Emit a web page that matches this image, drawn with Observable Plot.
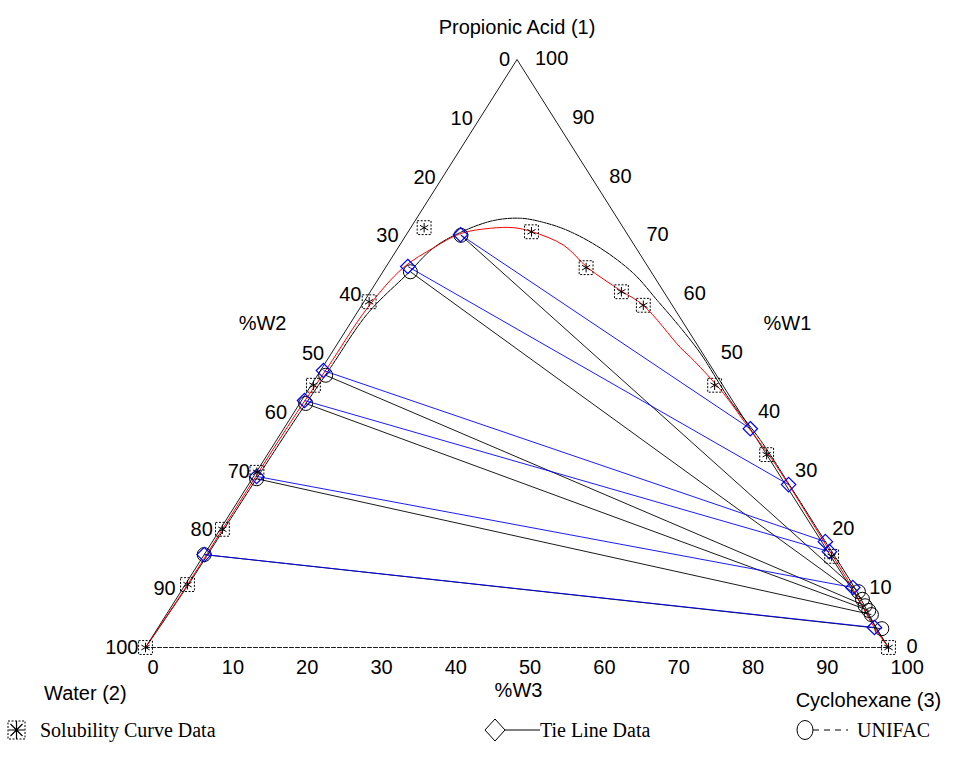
<!DOCTYPE html>
<html>
<head>
<meta charset="utf-8">
<script src="https://cdn.jsdelivr.net/npm/d3@7"></script>
<script src="https://cdn.jsdelivr.net/npm/@observablehq/plot@0.6"></script>
<style>
  body { margin: 0; background: #fff; }
  #chart { width: 972px; }
  #legend { display: block; }
</style>
</head>
<body>
<div id="chart"></div>
<script>
// ---- Data (mass %, W1 = Propionic acid, W3 = Cyclohexane; W2 = 100 - W1 - W3) ----
// Solubility curve data points
const solW1 = [0, 10.7, 20.1, 29.8, 44.6, 58.8, 71.4, 70.7, 64.6, 60.5, 58.2, 44.6, 32.8, 15.5, 0];
const solW3 = [0, 0.3, 0.3, 0.1, 0.3, 0.7, 1.8, 16.6, 27.0, 33.8, 37.9, 54.3, 67.2, 84.6, 100];

// Experimental binodal curve (red)
const expCurveW1 = [0, 10, 20, 30, 40, 47.6, 57.8, 64.6, 68.0, 70.4, 71.3, 71.4, 70.7, 68.4, 64.6, 60.7, 58.2, 51.0, 48.8, 43.2, 36.9, 32.3, 27.2, 18.0, 10.2, 3.4, 0];
const expCurveW3 = [0, 0.3, 0.3, 0.3, 0.4, 0.7, 1.0, 2.4, 4.8, 7.2, 10.8, 13.8, 16.7, 22.1, 27.2, 33.6, 37.9, 46.5, 49.4, 56.2, 63.0, 68.0, 73.2, 82.3, 90.0, 96.4, 100];

// UNIFAC binodal curve (black dashed)
const uniCurveW1 = [0, 10, 20, 30, 40, 47.6, 56.8, 63.6, 68.0, 70.6, 72.6, 73.0, 72.3, 70.9, 67.9, 63.6, 59.0, 54.4, 50.0, 42.0, 35.2, 27.5, 20, 10, 3, 0];
const uniCurveW3 = [0, 0.4, 0.5, 0.6, 0.8, 1.1, 1.5, 3.5, 4.8, 7.1, 10.5, 14.0, 17.4, 21.4, 27.3, 33.9, 39.4, 44.8, 49.7, 57.7, 65.2, 73.0, 80.5, 90.5, 97, 100];

// Experimental tie lines (blue diamonds)
const tieW1L = [70.2, 64.8, 47.1, 42.0, 29.1, 15.8];
const tieW3L = [7.3, 2.9, 0.4, 0.4, 0.4, 0.0];
const tieW1R = [37.2, 27.7, 18.0, 16.3, 10.2, 3.4];
const tieW3R = [62.8, 72.7, 82.5, 83.9, 90.1, 96.4];

// UNIFAC tie lines (black circles)
const uniW1L = [70.1, 63.9, 46.3, 41.5, 28.7, 15.8];
const uniW3L = [7.4, 3.7, 1.1, 0.8, 0.6, 0.0];
const uniW1R = [9.5, 8.2, 7.1, 6.3, 5.6, 3.2];
const uniW3R = [91.2, 92.4, 93.3, 94.2, 94.9, 97.5];

// Tick values (%)
const tickValues = [0, 10, 20, 30, 40, 50, 60, 70, 80, 90, 100];

// Triangle vertices (W1, W3): Water, Propionic acid, Cyclohexane
const vertW1 = [0, 100, 0];
const vertW3 = [0, 0, 100];

// Axis / corner titles (chart units)
const titleText = ["%W2", "%W1", "%W3", "Water (2)", "Cyclohexane (3)"];
const titleX = [15.75, 86.4, 50.2, -8.1, 97.3];
const titleY = [55.1, 55.1, -7.3, -7.8, -9.0];

// ---- ternary -> cartesian ----
const tx = (w1, w3) => w3 + w1 / 2;

const pts = (a1, a3) => a1.map((w1, i) => ({x: tx(w1, a3[i]), y: w1}));
const sol = pts(solW1, solW3);
const expCurve = pts(expCurveW1, expCurveW3);
const uniCurve = pts(uniCurveW1, uniCurveW3);
const tie = tieW1L.map((w1, i) => ({x1: tx(w1, tieW3L[i]), y1: w1, x2: tx(tieW1R[i], tieW3R[i]), y2: tieW1R[i]}));
const uni = uniW1L.map((w1, i) => ({x1: tx(w1, uniW3L[i]), y1: w1, x2: tx(uniW1R[i], uniW3R[i]), y2: uniW1R[i]}));
const verts = pts(vertW1, vertW3);
const sideEdges = [verts[0], verts[1], verts[2]];
const baseEdge = [verts[0], verts[2]];
const titles = titleText.map((t, i) => ({t, x: titleX[i], y: titleY[i]}));

const tieEnds = tie.flatMap(d => [{x: d.x1, y: d.y1}, {x: d.x2, y: d.y2}]);
const uniEnds = uni.flatMap(d => [{x: d.x1, y: d.y1}, {x: d.x2, y: d.y2}]);

const FONT = "'Liberation Sans', Arial, Helvetica, sans-serif";

const chart = Plot.plot({
  width: 972,
  height: 710,
  marginLeft: 145,
  marginRight: 84,
  marginTop: 59,
  marginBottom: 63,
  x: {domain: [0, 100], axis: null},
  y: {domain: [0, 100], axis: null},
  style: {fontFamily: FONT, fontSize: "20px", color: "black", background: "white", overflow: "visible"},
  marks: [
    // triangle
    Plot.line(sideEdges, {x: "x", y: "y", stroke: "black", strokeWidth: 0.9}),
    Plot.line(baseEdge, {x: "x", y: "y", stroke: "black", strokeWidth: 0.9, strokeDasharray: "4,2"}),
    // binodal curves
    Plot.line(uniCurve, {x: "x", y: "y", stroke: "black", strokeWidth: 1, strokeDasharray: "4,1", curve: "catmull-rom"}),
    Plot.line(expCurve, {x: "x", y: "y", stroke: "red", strokeWidth: 1, curve: "catmull-rom"}),
    // tie lines
    Plot.link(uni, {x1: "x1", y1: "y1", x2: "x2", y2: "y2", stroke: "black", strokeWidth: 0.9}),
    Plot.link(tie, {x1: "x1", y1: "y1", x2: "x2", y2: "y2", stroke: "#0000ff", strokeWidth: 0.9}),
    // markers
    Plot.dot(uniEnds, {x: "x", y: "y", r: 7, stroke: "black", strokeWidth: 1, fill: "none"}),
    Plot.dot(tieEnds, {x: "x", y: "y", symbol: "diamond2", r: 6.5, stroke: "#0000ff", strokeWidth: 1.2, fill: "none"}),
    Plot.dot(sol, {x: "x", y: "y", symbol: "square", r: 7.8, stroke: "black", strokeWidth: 1, strokeDasharray: "2,1.5", fill: "none"}),
    Plot.dot(sol, {x: "x", y: "y", symbol: "asterisk", r: 4.5, stroke: "black", strokeWidth: 1}),
    // tick labels
    Plot.text(tickValues, {x: v => tx(0, v), y: () => 0, text: d => String(d), textAnchor: "start", dx: 2, dy: 20, fontSize: 20, fill: "black"}),
    Plot.text(tickValues, {x: v => tx(100 - v, 0), y: v => 100 - v, text: d => String(d), textAnchor: "end", dx: -7, fontSize: 20, fill: "black"}),
    Plot.text(tickValues, {x: v => tx(v, 100 - v), y: v => v, text: d => String(d), textAnchor: "start", dx: 18, dy: -1, fontSize: 20, fill: "black"}),
    // titles
    Plot.text(["Propionic Acid (1)"], {x: () => tx(100, 0), y: () => 100, text: d => d, dy: -32, fontSize: 20, fill: "black"}),
    Plot.text(titles, {x: "x", y: "y", text: "t", fontSize: 20, fill: "black"})
  ]
});
document.getElementById("chart").appendChild(chart);

// ---- Legend ----
const ns = "http://www.w3.org/2000/svg";
const leg = d3.select("#chart").append("svg").attr("id", "legend").attr("width", 972).attr("height", 61)
  .attr("xmlns", ns).style("font-family", "'Liberation Serif', 'Times New Roman', serif").style("font-size", "20px");
const cy = 20;
// item 1
leg.append("rect").attr("x", 8).attr("y", cy - 9).attr("width", 17).attr("height", 18)
  .attr("fill", "none").attr("stroke", "black").attr("stroke-dasharray", "2,1.5");
leg.append("path").attr("transform", `translate(16.5,${cy})`)
  .attr("d", "M0,-9V9M-8,0H8M-6,-6L6,6M-6,6L6,-6").attr("stroke", "black").attr("stroke-width", 1.2);
leg.append("text").attr("x", 40).attr("y", cy).attr("dy", "0.35em").text("Solubility Curve Data");
// item 2
leg.append("path").attr("d", `M485,${cy}L495,${cy - 11}L505,${cy}L495,${cy + 11}Z`).attr("fill", "none").attr("stroke", "black");
leg.append("line").attr("x1", 505).attr("x2", 540).attr("y1", cy).attr("y2", cy).attr("stroke", "black");
leg.append("text").attr("x", 540).attr("y", cy).attr("dy", "0.35em").text("Tie Line Data");
// item 3
leg.append("ellipse").attr("cx", 805).attr("cy", cy).attr("rx", 8).attr("ry", 9.5).attr("fill", "none").attr("stroke", "black");
leg.append("line").attr("x1", 813).attr("x2", 848).attr("y1", cy).attr("y2", cy).attr("stroke", "black").attr("stroke-dasharray", "6,5");
leg.append("text").attr("x", 857).attr("y", cy).attr("dy", "0.35em").text("UNIFAC");
</script>
</body>
</html>
